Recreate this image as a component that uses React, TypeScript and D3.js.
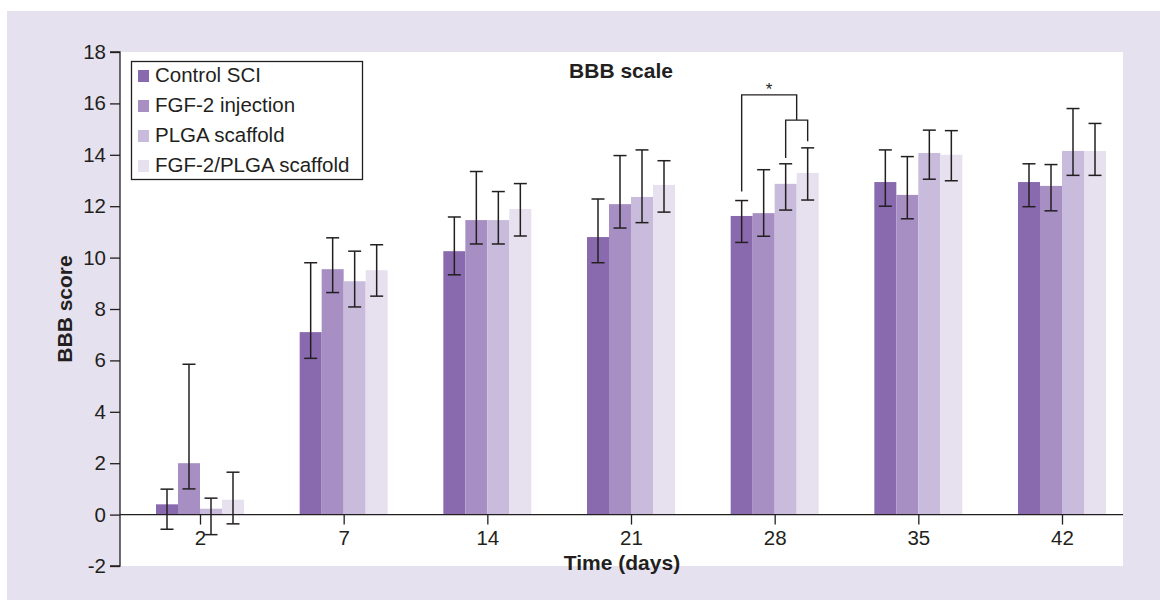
// BBB scale grouped bar chart with D3
import React, { useEffect, useRef } from 'react';
import * as d3 from 'd3';

const days = ['2', '7', '14', '21', '28', '35', '42'];
const seriesNames = ['Control SCI', 'FGF-2 injection', 'PLGA scaffold', 'FGF-2/PLGA scaffold'];
const seriesColors = ['#8a6aae', '#a78fc4', '#c8bbdb', '#e6e0ef'];

// means
const controlSCI = [0.4, 7.1, 10.25, 10.8, 11.62, 12.94, 12.94];
const fgf2Injection = [2.0, 9.55, 11.46, 12.08, 11.73, 12.44, 12.79];
const plgaScaffold = [0.23, 9.08, 11.46, 12.36, 12.87, 14.07, 14.15];
const fgf2PlgaScaffold = [0.58, 9.51, 11.89, 12.83, 13.29, 14.0, 14.15];

// error bar ends (low / high)
const controlLow = [-0.57, 6.08, 9.33, 9.8, 10.59, 12.0, 11.98];
const controlHigh = [0.99, 9.8, 11.58, 12.28, 12.22, 14.19, 13.65];
const fgf2Low = [1.0, 8.64, 10.53, 11.15, 10.83, 11.51, 11.82];
const fgf2High = [5.85, 10.77, 13.35, 13.97, 13.42, 13.93, 13.62];
const plgaLow = [-0.78, 8.08, 10.53, 11.36, 11.85, 13.05, 13.2];
const plgaHigh = [0.64, 10.25, 12.57, 14.19, 13.65, 14.96, 15.8];
const fgf2PlgaLow = [-0.36, 8.5, 10.84, 11.77, 12.24, 12.99, 13.2];
const fgf2PlgaHigh = [1.65, 10.5, 12.88, 13.77, 14.27, 14.94, 15.22];

const yTicks = [-2, 0, 2, 4, 6, 8, 10, 12, 14, 16, 18];

// significance bracket at day 28 (values in BBB units)
const bracketDay = '28';
const bracketTop = 16.33;
const bracketSub = 15.35;
const bracketLegs = [12.57, 13.88, 14.53]; // control, PLGA, FGF-2/PLGA

const App = () => {
  const svgRef = useRef<SVGSVGElement>(null);

  useEffect(() => {
    if (!svgRef.current) return;
    const W = 1160, H = 600;
    const font = '"Liberation Sans", Arial, sans-serif';
    const ink = '#231f20';
    const left = 120, right = 1123, top = 52, bottom = 566;

    const svg = d3.select(svgRef.current).attr('width', W).attr('height', H);
    svg.selectAll('*').remove();

    svg.append('rect').attr('x', 7).attr('y', 11).attr('width', W - 7).attr('height', H - 11).attr('fill', '#e6e1ef');
    svg.append('rect').attr('x', left).attr('y', top).attr('width', right - left).attr('height', bottom - top).attr('fill', '#fff');

    const x = d3.scalePoint<string>().domain(days).range([200, 1062]);
    const xs = d3.scaleBand<number>().domain([0, 1, 2, 3]).range([-44, 44]).padding(0);
    const y = d3.scaleLinear().domain([-2, 18]).range([bottom, top]);

    const means = [controlSCI, fgf2Injection, plgaScaffold, fgf2PlgaScaffold];
    const lows = [controlLow, fgf2Low, plgaLow, fgf2PlgaLow];
    const highs = [controlHigh, fgf2High, plgaHigh, fgf2PlgaHigh];

    const g = svg.append('g');

    // bars
    means.forEach((vals, s) => {
      g.selectAll(`.bar-${s}`)
        .data(vals)
        .enter()
        .append('rect')
        .attr('x', (_, i) => (x(days[i]) || 0) + (xs(s) || 0))
        .attr('y', d => Math.min(y(d), y(0)))
        .attr('width', xs.bandwidth())
        .attr('height', d => Math.abs(y(0) - y(d)))
        .attr('fill', seriesColors[s]);
    });

    // axes
    const yAxis = svg.append('g')
      .attr('transform', `translate(${left},0)`)
      .call(d3.axisLeft(y).tickValues(yTicks).tickSize(10).tickPadding(4).tickFormat(d => String(d)));
    yAxis.select('.domain').attr('d', `M-10,${bottom}H0V${top}H-10`);

    const xAxis = svg.append('g')
      .attr('transform', `translate(0,${y(0)})`)
      .call(d3.axisBottom(x).tickSize(10).tickPadding(6));
    xAxis.select('.domain').attr('d', `M${left},0H${right}`);

    [yAxis, xAxis].forEach(a => {
      a.selectAll('path,line').attr('stroke', ink).attr('stroke-width', 1.3);
      a.selectAll('text').attr('fill', ink).attr('font-family', font).attr('font-size', 20.5);
    });

    // error bars
    const cap = 6.5;
    means.forEach((vals, s) => {
      vals.forEach((_, i) => {
        const cx = (x(days[i]) || 0) + (xs(s) || 0) + xs.bandwidth() / 2;
        const lo = y(lows[s][i]), hi = y(highs[s][i]);
        const eb = g.append('g').attr('stroke', ink).attr('stroke-width', 1.5);
        eb.append('line').attr('x1', cx).attr('x2', cx).attr('y1', lo).attr('y2', hi);
        eb.append('line').attr('x1', cx - cap).attr('x2', cx + cap).attr('y1', lo).attr('y2', lo);
        eb.append('line').attr('x1', cx - cap).attr('x2', cx + cap).attr('y1', hi).attr('y2', hi);
      });
    });

    // significance bracket
    const bx = (s: number) => (x(bracketDay) || 0) + (xs(s) || 0) + xs.bandwidth() / 2;
    const subMid = (bx(2) + bx(3)) / 2;
    const br = g.append('g').attr('stroke', ink).attr('stroke-width', 1.4).attr('fill', 'none');
    br.append('path').attr('d', `M${bx(0)},${y(bracketLegs[0])}V${y(bracketTop)}H${subMid}V${y(bracketSub)}`);
    br.append('path').attr('d', `M${bx(2)},${y(bracketLegs[1])}V${y(bracketSub)}H${bx(3)}V${y(bracketLegs[2])}`);
    g.append('text')
      .attr('x', (bx(0) + subMid) / 2).attr('y', y(bracketTop) - 0)
      .attr('text-anchor', 'middle').attr('font-family', font).attr('font-size', 17)
      .attr('fill', ink).text('*');

    // titles
    svg.append('text').attr('x', 621).attr('y', 78).attr('text-anchor', 'middle')
      .attr('font-family', font).attr('font-size', 21).attr('font-weight', 'bold').attr('fill', ink)
      .text('BBB scale');
    svg.append('text').attr('x', 622).attr('y', 570).attr('text-anchor', 'middle')
      .attr('font-family', font).attr('font-size', 21).attr('font-weight', 'bold').attr('fill', ink)
      .text('Time (days)');
    svg.append('text').attr('transform', 'translate(72,309) rotate(-90)').attr('text-anchor', 'middle')
      .attr('font-family', font).attr('font-size', 21).attr('font-weight', 'bold').attr('fill', ink)
      .text('BBB score');

    // legend
    const lg = svg.append('g').attr('transform', 'translate(131.5,61.5)');
    lg.append('rect').attr('width', 231).attr('height', 118).attr('fill', '#fff')
      .attr('stroke', ink).attr('stroke-width', 1.3);
    seriesNames.forEach((name, i) => {
      const row = lg.append('g').attr('transform', `translate(0,${i * 30})`);
      row.append('rect').attr('x', 6.5).attr('y', 8.5).attr('width', 11).attr('height', 12).attr('fill', seriesColors[i]);
      row.append('text').attr('x', 23.5).attr('y', 20.5)
        .attr('font-family', font).attr('font-size', 20.5).attr('fill', ink).text(name);
    });
  }, []);

  return <svg ref={svgRef} style={{ position: 'absolute', left: 0, top: 0, display: 'block' }} />;
};

export default App;
